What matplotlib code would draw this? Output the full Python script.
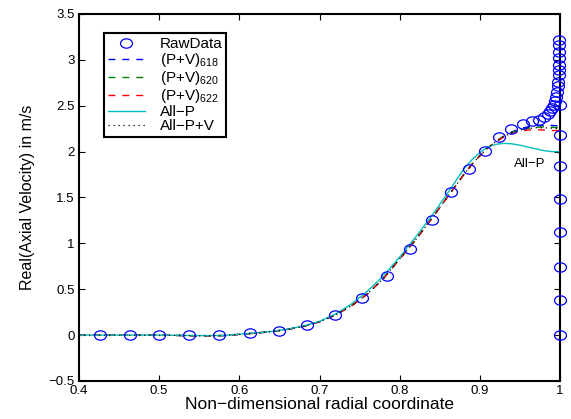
import matplotlib
matplotlib.use("Agg")
import matplotlib.pyplot as plt
from matplotlib.path import Path
from matplotlib.transforms import Affine2D

plt.rcParams["font.family"] = ["Liberation Sans", "DejaVu Sans"]
plt.rcParams["mathtext.default"] = "regular"

# measured points (radial coordinate, axial velocity)
raw_r = [0.426, 0.463, 0.500, 0.537, 0.575, 0.613, 0.6495, 0.685, 0.7197,
         0.753, 0.784, 0.813, 0.840, 0.864, 0.8865, 0.9065, 0.924, 0.9385,
         0.954, 0.9655, 0.974, 0.980, 0.9846, 0.9875, 0.990, 0.9925, 0.9937,
         0.995, 0.9958, 0.997, 0.998, 0.9983, 0.9987, 0.999, 0.999, 0.999,
         0.999, 0.999, 1.0, 1.0, 1.0, 1.0, 1.0, 1.0, 1.0, 1.0]
raw_u = [0.0, 0.0, 0.0, 0.0, 0.005, 0.02, 0.05, 0.11, 0.218,
         0.40, 0.643, 0.935, 1.254, 1.556, 1.81, 2.01, 2.156, 2.243,
         2.30, 2.33, 2.35, 2.38, 2.41, 2.44, 2.47, 2.51, 2.55,
         2.60, 2.65, 2.71, 2.76, 2.84, 2.89, 2.94, 3.02, 3.09,
         3.16, 3.22, 2.51, 2.18, 1.84, 1.48, 1.12, 0.745, 0.38, 0.0]

# model curves
r_line = [0.40, 0.45, 0.50, 0.55, 0.58, 0.60, 0.62, 0.64, 0.66, 0.68, 0.70,
          0.72, 0.74, 0.76, 0.78, 0.80, 0.82, 0.84, 0.86, 0.88, 0.89, 0.90,
          0.91, 0.92, 0.93, 0.94, 0.95, 0.96, 0.97, 0.98, 0.99, 1.00]
pv_618 = [0.0, 0.0, 0.0, -0.008, -0.005, 0.008, 0.022, 0.038, 0.062, 0.095, 0.145,
          0.22, 0.32, 0.45, 0.62, 0.83, 1.04, 1.27, 1.51, 1.75, 1.86, 1.955,
          2.04, 2.11, 2.17, 2.215, 2.25, 2.27, 2.28, 2.285, 2.285, 2.28]
pv_620 = [0.0, 0.0, 0.0, -0.008, -0.005, 0.008, 0.022, 0.038, 0.062, 0.095, 0.145,
          0.22, 0.32, 0.45, 0.62, 0.83, 1.04, 1.27, 1.51, 1.75, 1.86, 1.955,
          2.04, 2.11, 2.17, 2.21, 2.24, 2.255, 2.265, 2.27, 2.265, 2.26]
pv_622 = [0.0, 0.0, 0.0, -0.008, -0.005, 0.008, 0.022, 0.038, 0.062, 0.095, 0.145,
          0.22, 0.32, 0.45, 0.62, 0.83, 1.04, 1.27, 1.51, 1.75, 1.86, 1.955,
          2.04, 2.105, 2.16, 2.195, 2.22, 2.235, 2.24, 2.235, 2.23, 2.23]
all_p = [0.0, 0.0, 0.0, -0.005, -0.004, 0.01, 0.024, 0.04, 0.065, 0.10, 0.15,
         0.23, 0.34, 0.48, 0.65, 0.85, 1.07, 1.30, 1.55, 1.81, 1.91, 1.99,
         2.05, 2.08, 2.09, 2.085, 2.07, 2.05, 2.03, 2.01, 2.0, 2.0]
all_pv = [0.0, 0.0, 0.0, -0.008, -0.005, 0.008, 0.022, 0.038, 0.062, 0.095, 0.145,
          0.22, 0.32, 0.45, 0.62, 0.83, 1.04, 1.27, 1.51, 1.75, 1.86, 1.955,
          2.04, 2.11, 2.165, 2.205, 2.235, 2.25, 2.26, 2.26, 2.255, 2.25]

x_ticks = [0.4, 0.5, 0.6, 0.7, 0.8, 0.9, 1.0]
x_labels = ["0.4", "0.5", "0.6", "0.7", "0.8", "0.9", "1"]
y_ticks = [-0.5, 0, 0.5, 1, 1.5, 2, 2.5, 3, 3.5]
y_labels = ["\u22120.5", "0", "0.5", "1", "1.5", "2", "2.5", "3", "3.5"]


def plot() -> None:
    fig = plt.figure(figsize=(5.71, 4.19), dpi=100)
    ax = fig.add_axes([0.1384, 0.0907, 0.8423, 0.8759])

    # slightly flattened circle, as in the original figure
    oval = Path.unit_circle().transformed(Affine2D().scale(1.0, 0.78))

    ax.plot(raw_r, raw_u, linestyle="none", marker=oval, mfc="none",
            mec=(0, 0, 1), ms=8.6, mew=0.9, label="RawData",
            clip_on=False, zorder=3)
    dash = (5, 5)
    ax.plot(r_line, pv_618, color=(0, 0, 1), lw=1.0, dashes=dash,
            label="(P+V)$_{618}$")
    ax.plot(r_line, pv_620, color=(0, 0.5, 0), lw=1.0, dashes=dash,
            label="(P+V)$_{620}$")
    ax.plot(r_line, pv_622, color=(1, 0, 0), lw=1.0, dashes=dash,
            label="(P+V)$_{622}$")
    ax.plot(r_line, all_p, color=(0, 0.75, 0.75), lw=1.0, label="All\u2212P")
    ax.plot(r_line, all_pv, color="k", lw=0.9, linestyle=(0, (1, 3)),
            label="All\u2212P+V")

    ax.text(0.9625, 1.87, "All\u2212P", ha="center", va="center", fontsize=9.5)

    ax.set_xlim(0.4, 1.0)
    ax.set_ylim(-0.5, 3.5)
    ax.set_xticks(x_ticks)
    ax.set_xticklabels(x_labels)
    ax.set_yticks(y_ticks)
    ax.set_yticklabels(y_labels)
    ax.tick_params(direction="in", top=True, right=True, length=4,
                   width=0.8, labelsize=9.5, pad=3)
    for s in ax.spines.values():
        s.set_linewidth(1.5)

    ax.set_xlabel("Non\u2212dimensional radial coordinate", fontsize=12.5, labelpad=0)
    ax.set_ylabel("Real(Axial Velocity) in m/s", fontsize=11.5, labelpad=10)

    leg = ax.legend(loc="upper left", bbox_to_anchor=(0.052, 0.948),
                    borderaxespad=0, fontsize=11, fancybox=False,
                    framealpha=1, edgecolor="k", handlelength=2.4,
                    labelspacing=0.0, borderpad=0.25, handletextpad=1.0)
    leg.get_frame().set_linewidth(1.5)

    fig.savefig("out.png", dpi=100)


if __name__ == "__main__":
    plot()
